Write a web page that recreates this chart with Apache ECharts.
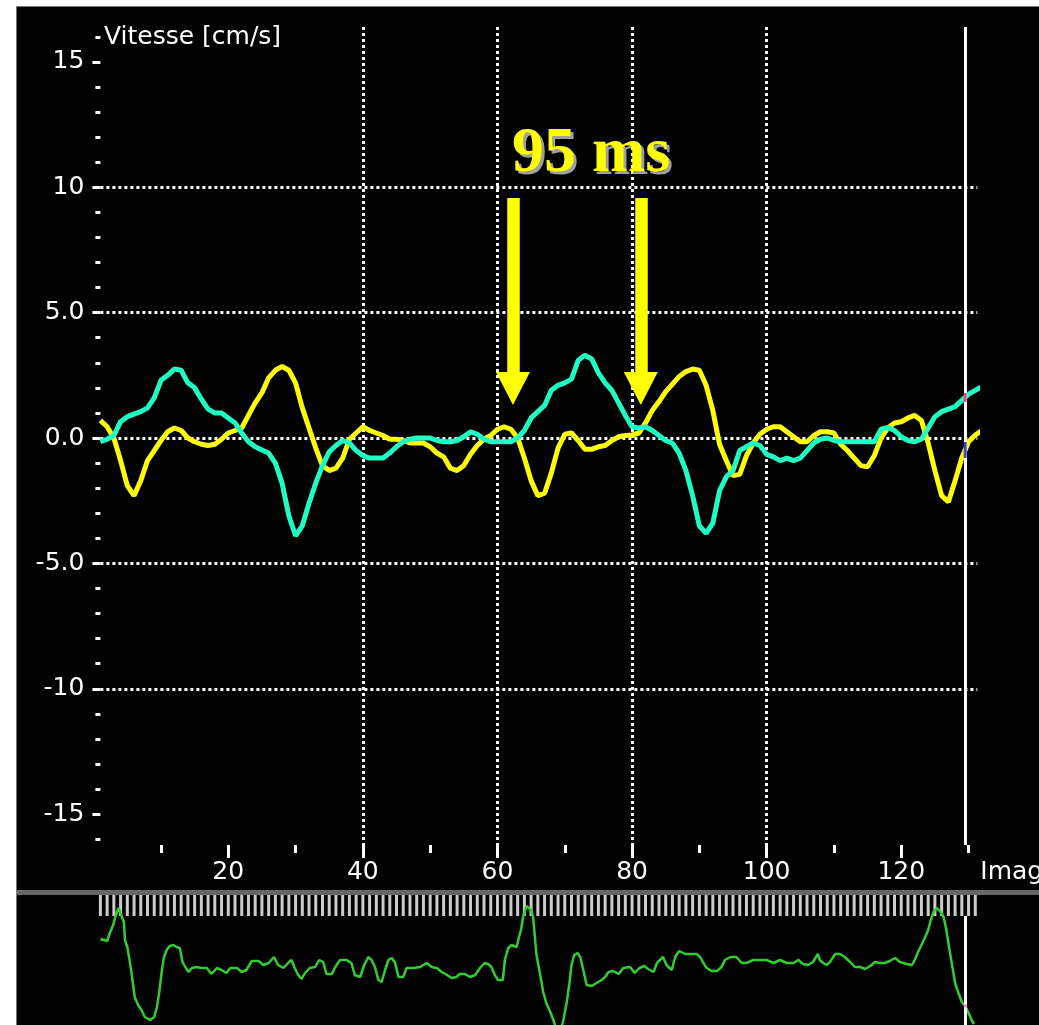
<!DOCTYPE html>
<html><head><meta charset="utf-8">
<script src="https://cdn.jsdelivr.net/npm/echarts@6/dist/echarts.min.js"></script>
<style>html,body{margin:0;padding:0;background:#fff}#c{width:1039px;height:1025px}</style>
</head><body><div id="c"></div>
<script>
// velocity curves (cm/s), one value per image frame, frames 1..132
const yellowVel = [0.7,0.45,0.0,-0.9,-1.9,-2.3,-1.7,-0.9,-0.5,-0.1,
0.25,0.4,0.3,0.0,-0.15,-0.25,-0.3,-0.25,-0.05,0.2,
0.3,0.4,0.9,1.4,1.8,2.4,2.7,2.85,2.7,2.2,
1.2,0.4,-0.4,-1.1,-1.3,-1.2,-0.8,-0.05,0.2,0.45,
0.3,0.2,0.1,-0.05,-0.05,-0.1,-0.2,-0.2,-0.2,-0.35,
-0.6,-0.75,-1.2,-1.3,-1.1,-0.65,-0.3,-0.05,0.1,0.35,
0.45,0.35,0.0,-0.8,-1.7,-2.3,-2.2,-1.4,-0.4,0.15,
0.2,-0.1,-0.45,-0.45,-0.35,-0.3,-0.1,0.05,0.1,0.12,
0.2,0.6,1.1,1.45,1.85,2.15,2.45,2.65,2.75,2.7,
2.1,1.1,-0.25,-0.9,-1.5,-1.45,-0.7,-0.2,0.15,0.35,
0.45,0.45,0.25,0.05,-0.15,-0.15,0.1,0.25,0.25,0.2,
-0.25,-0.5,-0.8,-1.1,-1.15,-0.7,0.0,0.4,0.6,0.65,
0.8,0.9,0.7,-0.2,-1.3,-2.3,-2.55,-1.7,-0.8,-0.15,
0.12,0.3];
const cyanVel = [-0.15,-0.05,0.1,0.65,0.85,0.95,1.05,1.2,1.6,2.3,
2.5,2.75,2.7,2.2,2.0,1.55,1.15,1.0,1.0,0.8,
0.6,0.2,-0.15,-0.35,-0.48,-0.6,-1.0,-1.8,-3.1,-3.9,
-3.5,-2.6,-1.8,-1.1,-0.55,-0.3,-0.1,-0.2,-0.5,-0.7,
-0.8,-0.8,-0.8,-0.6,-0.35,-0.15,-0.05,0.0,0.0,0.0,
-0.1,-0.15,-0.15,-0.1,0.05,0.25,0.15,-0.05,-0.15,-0.15,
-0.15,-0.15,0.0,0.3,0.8,1.05,1.3,1.9,2.1,2.2,
2.35,3.1,3.3,3.15,2.6,2.2,1.9,1.4,0.9,0.45,
0.4,0.45,0.3,0.1,-0.1,-0.2,-0.6,-1.3,-2.3,-3.5,
-3.8,-3.4,-2.1,-1.55,-1.3,-0.5,-0.35,-0.2,-0.3,-0.65,
-0.75,-0.9,-0.8,-0.9,-0.8,-0.5,-0.2,-0.05,0.0,-0.1,
-0.15,-0.15,-0.15,-0.15,-0.15,-0.15,0.35,0.42,0.3,0.05,
-0.1,-0.15,-0.05,0.4,0.85,1.05,1.15,1.25,1.5,1.75,
1.9,2.05];
// ECG strip: [frame, amplitude]
const ecgTrace = [[1,31],[2,29],[2.4,37],[2.9,45],[3.2,53],[3.7,62],[4.2,53],[4.5,48],[4.65,30],[5,23],[5.4,7],[5.8,-12],[6.1,-27],[6.6,-35],[7.1,-40],[7.6,-47],[8.4,-50],[9,-47],[9.4,-37],[9.75,-22],[10.1,-2],[10.45,13],[10.85,20],[11.3,24],[11.8,25],[12.3,23],[12.8,22],[13.2,8],[13.7,2],[14.1,-2],[14.6,2],[15.3,3],[16,2],[16.8,2],[17.5,-4],[18.3,2],[19,0],[19.7,-3],[20.3,2],[21.3,2],[22,-2],[22.7,0],[23.5,9],[24.5,9],[25.2,5],[26,7],[26.8,13],[27.4,5],[28.2,2],[28.9,7],[29.4,10],[29.8,3],[30.4,-5],[30.9,-9],[31.4,-3],[32.1,2],[32.9,3],[33.5,10],[34.1,8],[34.6,-4],[35.4,-4],[35.9,3],[36.6,10],[37.6,10],[38.3,7],[38.8,-5],[39.6,-7],[40.2,5],[40.8,13],[41.3,10],[41.8,3],[42.3,-10],[42.8,-12],[43.3,0],[43.8,10],[44.3,12],[44.8,7],[45.3,-7],[46,-7],[46.5,2],[47.5,2],[48.5,3],[49.5,7],[50.2,3],[51,2],[51.7,-2],[52.5,-5],[53.2,-8],[53.9,-7],[54.4,-4],[55.2,-4],[55.9,-7],[56.7,-5],[57.4,2],[58.1,7],[58.6,6],[59.1,3],[59.6,-5],[60.1,-10],[60.8,-10],[61.1,10],[61.6,22],[62.1,25],[62.85,23],[63.2,33],[63.5,40],[63.8,53],[64.3,64],[65,60],[65.3,53],[65.6,30],[65.8,15],[66.3,-3],[66.8,-22],[67.3,-34],[67.8,-41],[68.3,-50],[68.8,-60],[69.4,-60],[69.8,-50],[70.3,-32],[70.7,-13],[71,5],[71.4,15],[71.9,17],[72.3,13],[72.75,0],[73.25,-15],[74,-16],[74.7,-13],[75.5,-10],[76,-7],[76.5,-2],[77.2,-1],[78,-4],[78.7,2],[79.7,3],[80.4,-3],[81.1,2],[81.8,4],[82.4,1],[83.2,-2],[83.7,7],[84.6,13],[85.1,5],[85.9,0],[86.4,13],[87,19],[87.9,16],[88.9,16],[89.6,16],[90.1,13],[90.6,7],[91.1,2],[91.8,-1],[92.6,-1],[93.3,3],[93.8,10],[94.6,13],[95.5,13],[96.3,7],[97,7],[98,10],[99,10],[100,10],[101,7],[102,10],[103,7],[104,7],[104.7,10],[105.4,6],[106.2,5],[106.9,8],[107.6,16],[107.9,10],[108.4,7],[108.9,5],[109.4,8],[110.2,16],[110.9,16],[111.6,13],[112.4,8],[113.1,3],[113.9,3],[114.6,1],[115.4,4],[116.1,8],[116.8,7],[117.6,7],[118.3,9],[119.1,12],[119.8,8],[120.8,6],[121.6,5],[122,10],[122.5,18],[123,25],[123.5,32],[124,40],[124.4,50],[124.8,58],[125.3,62],[125.85,58],[126.3,53],[126.7,40],[127.1,23],[127.5,7],[128,-13],[128.5,-23],[129,-32],[129.5,-36],[129.95,-42],[130.45,-50],[130.8,-54]];
const yTicks = [-15,-10,-5,0,5,10,15];
const xTicks = [20,40,60,80,100,120];
const cursorFrame = 129.5;
const cursorCyan = 1.62, cursorYellow = -0.48, cursorEcg = -36;
const arrowFrames = [62.3, 81.3];
const arrowTop = 9.57, arrowHead = 1.97;
const annotationText = '95 ms';

const FONT = 'DejaVu Sans';
const frames = yellowVel.map((_, i) => i + 1);
const dotted = {color:'#ffffff', width:3, type:[3,3]};

const chart = echarts.init(document.getElementById('c'), null, {renderer:'canvas'});
chart.setOption({
  backgroundColor:'#000000',
  animation:false,
  title:{text:'Vitesse [cm/s]', left:104, top:25, padding:0,
    textStyle:{color:'#ffffff', fontSize:25, fontWeight:'normal', fontFamily:FONT}},
  grid:[
    {left:100.4, right:61.7, top:27, bottom:180, outerBoundsMode:'none', containLabel:false},
    {left:100.4, right:61.7, top:895, bottom:0, outerBoundsMode:'none', containLabel:false}
  ],
  xAxis:[
    {type:'value', gridIndex:0, min:1, max:131.3, minInterval:20, maxInterval:20,
     name:'Image', nameLocation:'end', nameGap:3,
     nameTextStyle:{color:'#ffffff', fontSize:25, fontFamily:FONT, align:'left', verticalAlign:'top', padding:[15,0,0,0]},
     axisLine:{show:false, onZero:false},
     axisTick:{show:true, length:13, lineStyle:{color:'#ffffff', width:3}, customValues:xTicks},
     minorTick:{show:true, splitNumber:2, length:8, lineStyle:{color:'#ffffff', width:3}},
     axisLabel:{color:'#ffffff', fontSize:25, fontFamily:FONT, margin:15, customValues:xTicks},
     splitLine:{show:true, showMinLine:false, showMaxLine:false, lineStyle:dotted}},
    {type:'value', gridIndex:1, min:1, max:131.3, show:false}
  ],
  yAxis:[
    {type:'value', gridIndex:0, min:-16.23, max:16.39, minInterval:5, maxInterval:5,
     axisLine:{show:false, onZero:false},
     axisTick:{show:true, length:8, lineStyle:{color:'#ffffff', width:3}, customValues:yTicks},
     minorTick:{show:true, splitNumber:5, length:5, lineStyle:{color:'#ffffff', width:3}},
     axisLabel:{color:'#ffffff', fontSize:25, fontFamily:FONT, margin:16, customValues:yTicks,
       formatter: v => Math.abs(v) >= 10 ? String(v) : v.toFixed(1)},
     splitLine:{show:true, showMinLine:false, showMaxLine:false, lineStyle:dotted}},
    {type:'value', gridIndex:1, min:-55, max:75, show:false}
  ],
  series:[
    {type:'line', name:'yellow', xAxisIndex:0, yAxisIndex:0, z:3, clip:false, silent:true,
     data: yellowVel.map((v, i) => [frames[i], v]), symbol:'none',
     lineStyle:{color:'#ffff00', width:5},
     markLine:{silent:true, symbol:['none','triangle'], symbolSize:[34,33], label:{show:false},
       lineStyle:{color:'#ffff00', width:12.5, type:'solid', cap:'butt'},
       itemStyle:{color:'#ffff00'},
       data: arrowFrames.map(f => [{coord:[f, arrowTop]}, {coord:[f, arrowHead]}])}},
    {type:'line', name:'cyan', xAxisIndex:0, yAxisIndex:0, z:3, clip:false, silent:true,
     data: cyanVel.map((v, i) => [frames[i], v]), symbol:'none',
     lineStyle:{color:'#1effc4', width:5},
     markLine:{silent:true, symbol:'none', label:{show:false},
       lineStyle:{color:'#ffffff', width:3, type:'solid'},
       data:[{xAxis:cursorFrame}]}},
    {type:'scatter', xAxisIndex:0, yAxisIndex:0, z:7, silent:true, symbol:'rect',
     data:[
       {value:[cursorFrame, cursorCyan], symbolSize:[3,9], itemStyle:{color:'#e8106c'}},
       {value:[cursorFrame, cursorYellow], symbolSize:[3,16], itemStyle:{color:'#1010e8'}}
     ]},
    {type:'scatter', xAxisIndex:1, yAxisIndex:1, z:3, silent:true, symbol:'rect', symbolSize:[3,21],
     itemStyle:{color:'#ffffff'}, data: frames.slice(0,131).map(f => [f, 64.5])},
    {type:'line', name:'ecg', xAxisIndex:1, yAxisIndex:1, z:4, silent:true, symbol:'none',
     data: ecgTrace, lineStyle:{color:'#33cc33', width:2.5},
     markLine:{silent:true, symbol:'none', label:{show:false},
       lineStyle:{color:'#ffffff', width:3, type:'solid'},
       data:[[{coord:[cursorFrame, 54]}, {coord:[cursorFrame, -55]}]]}},
    {type:'scatter', xAxisIndex:1, yAxisIndex:1, z:7, silent:true, symbol:'rect', symbolSize:[3,3],
     itemStyle:{color:'#e060e0'}, data:[[cursorFrame, cursorEcg]]}
  ],
  graphic:[
    {type:'rect', z:100, shape:{x:0, y:0, width:16, height:1025}, style:{fill:'#ffffff'}},
    {type:'rect', z:100, shape:{x:0, y:0, width:1039, height:6}, style:{fill:'#ffffff'}},
    {type:'rect', z:100, shape:{x:16, y:6, width:1, height:1019}, style:{fill:'#777777'}},
    {type:'rect', z:100, shape:{x:16, y:6, width:1023, height:1}, style:{fill:'#777777'}},
    {type:'rect', z:100, shape:{x:17, y:890, width:1022, height:5}, style:{fill:'#666666'}},
    {type:'text', z:50, x:594, y:157, style:{text:annotationText, fill:'#a0a0a0',
      font:'bold 64px "Liberation Serif"', align:'center', verticalAlign:'middle'}},
    {type:'text', z:51, x:591, y:154, style:{text:annotationText, fill:'#ffff00',
      font:'bold 64px "Liberation Serif"', align:'center', verticalAlign:'middle'}}
  ]
});
</script></body></html>
